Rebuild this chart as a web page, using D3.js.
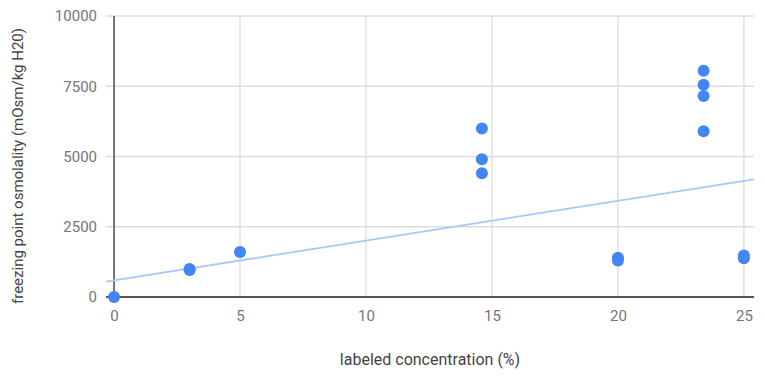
<!DOCTYPE html>
<html>
<head>
<meta charset="utf-8">
<script src="https://cdn.jsdelivr.net/npm/d3@7"></script>
<style>
  body { margin: 0; background: #fff; }
  text { font-family: Roboto, "Noto Sans", sans-serif; }
</style>
</head>
<body>
<div id="chart"></div>
<script>
// data
const concentration = [0, 3, 3, 5, 14.6, 14.6, 14.6, 20, 20, 23.4, 23.4, 23.4, 23.4, 25, 25];
const osmolality = [0, 960, 1000, 1600, 6000, 4900, 4400, 1300, 1400, 8050, 7550, 7150, 5900, 1480, 1380];
const xTicks = [0, 5, 10, 15, 20, 25];
const yTicks = [0, 2500, 5000, 7500, 10000];
// trendline as shown
const trendIntercept = 590;
const trendSlope = 141.7;

const margin = {top: 16, right: 11, bottom: 83, left: 106};
const width = 765 - margin.left - margin.right;
const height = 380 - margin.top - margin.bottom;

const svg = d3.select('#chart').append('svg')
    .attr('width', 765)
    .attr('height', 380);

const g = svg.append('g')
    .attr('transform', 'translate(' + margin.left + ',' + margin.top + ')');

const xScale = d3.scaleLinear()
    .domain([-0.32, 25.4])
    .range([0, width]);

const yScale = d3.scaleLinear()
    .domain([0, 10000])
    .range([height, 0]);

// gridlines
g.append('g').selectAll('line.hgrid')
    .data(yTicks.filter(d => d > 0))
    .join('line')
    .attr('x1', 0).attr('x2', width)
    .attr('y1', d => yScale(d)).attr('y2', d => yScale(d))
    .attr('stroke', '#dcdcdc').attr('stroke-width', 1.3);

g.append('g').selectAll('line.vgrid')
    .data(xTicks.filter(d => d > 0))
    .join('line')
    .attr('x1', d => xScale(d)).attr('x2', d => xScale(d))
    .attr('y1', 0).attr('y2', height)
    .attr('stroke', '#dcdcdc').attr('stroke-width', 1.3);

// axes
const xAxis = d3.axisBottom(xScale).tickValues(xTicks).tickSize(0).tickPadding(13);
const yAxis = d3.axisLeft(yScale).tickValues(yTicks).tickSize(0).tickPadding(9)
    .tickFormat(d3.format('d'));

const xAxisGroup = g.append('g')
    .attr('transform', 'translate(0,' + height + ')')
    .call(xAxis);
xAxisGroup.select('.domain').remove();

const yAxisGroup = g.append('g')
    .call(yAxis);
yAxisGroup.select('.domain').remove();

g.selectAll('.tick text')
    .attr('fill', '#757575')
    .style('font-size', '15px');

// zero lines
g.append('line')
    .attr('x1', xScale(0)).attr('x2', xScale(0))
    .attr('y1', 0).attr('y2', height)
    .attr('stroke', '#666').attr('stroke-width', 1.8);
g.append('line')
    .attr('x1', 0).attr('x2', width)
    .attr('y1', yScale(0)).attr('y2', yScale(0))
    .attr('stroke', '#555').attr('stroke-width', 1.8);

// trendline
const xd = xScale.domain();
g.append('line')
    .attr('x1', xScale(xd[0])).attr('x2', xScale(xd[1]))
    .attr('y1', yScale(trendIntercept + trendSlope * xd[0]))
    .attr('y2', yScale(trendIntercept + trendSlope * xd[1]))
    .attr('stroke', '#a9c8f9').attr('stroke-width', 1.8);

// points
g.append('g').selectAll('circle')
    .data(concentration.map((c, i) => ({x: c, y: osmolality[i]})))
    .join('circle')
    .attr('cx', d => xScale(d.x))
    .attr('cy', d => yScale(d.y))
    .attr('r', 6)
    .attr('fill', '#4285f4');

// axis titles
svg.append('text')
    .attr('x', 430)
    .attr('y', 365)
    .attr('text-anchor', 'middle')
    .attr('fill', '#444')
    .style('font-size', '16px')
    .text('labeled concentration (%)');

svg.append('text')
    .attr('transform', 'translate(23,' + 166 + ') rotate(-90)')
    .attr('text-anchor', 'middle')
    .attr('fill', '#444')
    .style('font-size', '15px')
    .text('freezing point osmolality (mOsm/kg H20)');
</script>
</body>
</html>
